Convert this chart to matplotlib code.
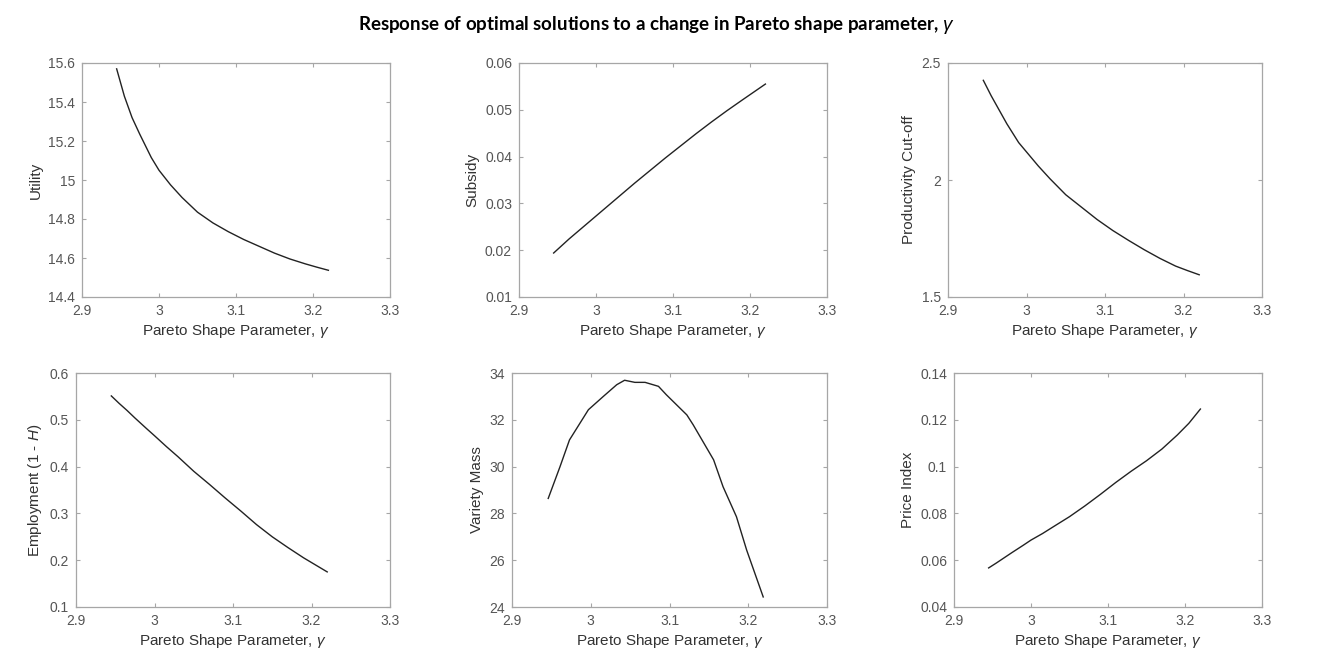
import numpy as np
import matplotlib
matplotlib.use('Agg')
import matplotlib.pyplot as plt

# Pareto shape parameter grid used for the smooth responses
gamma = [2.945, 2.955, 2.965, 2.975, 2.99, 3.0, 3.015, 3.03, 3.05,
         3.07, 3.09, 3.11, 3.13, 3.15, 3.17, 3.19, 3.205, 3.22]

utility = [15.57, 15.43, 15.32, 15.235, 15.115, 15.05, 14.975, 14.91, 14.835,
           14.78, 14.735, 14.695, 14.66, 14.625, 14.595, 14.57, 14.553, 14.537]
subsidy = [0.0194, 0.0209, 0.0224, 0.0238, 0.0259, 0.0273, 0.0294, 0.0315, 0.0343,
           0.0370, 0.0397, 0.0423, 0.0449, 0.0474, 0.0498, 0.0521, 0.0538, 0.0555]
cutoff = [2.426, 2.36, 2.30, 2.24, 2.16, 2.12, 2.06, 2.005, 1.937,
          1.884, 1.831, 1.784, 1.742, 1.702, 1.665, 1.632, 1.613, 1.595]
employment = [0.551, 0.535, 0.520, 0.504, 0.481, 0.466, 0.443, 0.421, 0.390,
              0.362, 0.333, 0.305, 0.276, 0.250, 0.227, 0.205, 0.190, 0.175]
price_index = [0.0567, 0.0588, 0.0610, 0.0632, 0.0664, 0.0686, 0.0714, 0.0745, 0.0786,
               0.0832, 0.0881, 0.0932, 0.0980, 0.1025, 0.1075, 0.1135, 0.1185, 0.1246]

# variety mass is kinked, so it keeps its own sample points
gamma_vm = [2.946, 2.961, 2.973, 2.997, 3.016, 3.033, 3.043, 3.056, 3.069, 3.086,
            3.096, 3.122, 3.130, 3.156, 3.168, 3.185, 3.198, 3.219]
variety_mass = [28.64, 30.0, 31.14, 32.43, 33.0, 33.5, 33.69, 33.6, 33.6, 33.43,
                33.07, 32.21, 31.79, 30.29, 29.14, 27.86, 26.43, 24.43]

panels = [
    # (x, y, ylabel, ylim, yticks, ytick labels, [left, top, right, bottom] in px)
    (gamma, utility, 'Utility', (14.4, 15.6),
     [14.4, 14.6, 14.8, 15.0, 15.2, 15.4, 15.6],
     ['14.4', '14.6', '14.8', '15', '15.2', '15.4', '15.6'], (82, 63, 390, 297)),
    (gamma, subsidy, 'Subsidy', (0.01, 0.06),
     [0.01, 0.02, 0.03, 0.04, 0.05, 0.06],
     ['0.01', '0.02', '0.03', '0.04', '0.05', '0.06'], (519, 63, 827, 297)),
    (gamma, cutoff, 'Productivity Cut-off', (1.5, 2.5),
     [1.5, 2.0, 2.5], ['1.5', '2', '2.5'], (948, 63, 1262, 297)),
    (gamma, employment, 'Employment (1 - $H$)', (0.1, 0.6),
     [0.1, 0.2, 0.3, 0.4, 0.5, 0.6],
     ['0.1', '0.2', '0.3', '0.4', '0.5', '0.6'], (76, 373, 390, 607)),
    (gamma_vm, variety_mass, 'Variety Mass', (24, 34),
     [24, 26, 28, 30, 32, 34], ['24', '26', '28', '30', '32', '34'], (512, 373, 827, 607)),
    (gamma, price_index, 'Price Index', (0.04, 0.14),
     [0.04, 0.06, 0.08, 0.1, 0.12, 0.14],
     ['0.04', '0.06', '0.08', '0.1', '0.12', '0.14'], (954, 373, 1262, 607)),
]

xticks = [2.9, 3.0, 3.1, 3.2, 3.3]
xtick_labels = ['2.9', '3', '3.1', '3.2', '3.3']

W, H = 1319, 664
plt.rcParams['font.family'] = ['Liberation Sans', 'DejaVu Sans']
plt.rcParams['mathtext.fontset'] = 'custom'
plt.rcParams['mathtext.it'] = 'Liberation Sans:italic'

fig = plt.figure(figsize=(W / 100, H / 100), dpi=100)
fig.patch.set_facecolor('white')

frame_col = '#a6a6a6'
tick_col = '#555555'

for x, y, ylabel, ylim, yt, ytl, (l, t, r, b) in panels:
    ax = fig.add_axes([l / W, 1 - b / H, (r - l) / W, (b - t) / H])
    ax.plot(x, y, color='#222222', linewidth=1.0)
    ax.set_xlim(2.9, 3.3)
    ax.set_ylim(*ylim)
    ax.set_xticks(xticks)
    ax.set_xticklabels(xtick_labels)
    ax.set_yticks(yt)
    ax.set_yticklabels(ytl)
    for s in ax.spines.values():
        s.set_color(frame_col)
        s.set_linewidth(0.9)
    ax.tick_params(direction='in', top=True, right=True, length=3, width=0.8,
                   color=frame_col, labelcolor=tick_col, labelsize=10)
    ax.tick_params(axis='x', pad=5)
    ax.tick_params(axis='y', pad=5)
    ax.set_ylabel(ylabel, fontsize=11, color='#333333', labelpad=4)
    ax.set_xlabel('Pareto Shape Parameter, ' + r'$\gamma$', fontsize=11,
                  color='#333333', labelpad=3)

fig.text(0.498, 0.962,
         'Response of optimal solutions to a change in Pareto shape parameter, ' + r'$\gamma$',
         ha='center', va='center', fontsize=13.5, fontweight='bold',
         family=['Lato', 'DejaVu Sans'])

plt.savefig('out.png', dpi=100)
